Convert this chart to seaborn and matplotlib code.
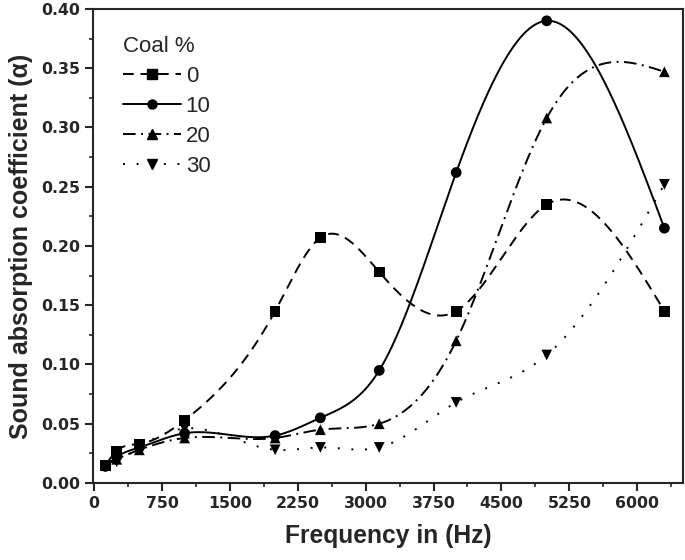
import numpy as np
import pandas as pd
import seaborn as sns
import matplotlib
matplotlib.use("Agg")
import matplotlib.pyplot as plt
from matplotlib.lines import Line2D
from matplotlib.ticker import MultipleLocator, FormatStrFormatter

sns.set_style("ticks")
plt.rcParams['font.family'] = ['Liberation Sans', 'DejaVu Sans']

freq = [125, 250, 500, 1000, 2000, 2500, 3150, 4000, 5000, 6300]
coal_labels = ['0', '10', '20', '30']
alpha_0 = [0.015, 0.027, 0.033, 0.053, 0.145, 0.207, 0.178, 0.145, 0.235, 0.145]
alpha_10 = [0.014, 0.022, 0.030, 0.042, 0.040, 0.055, 0.095, 0.262, 0.390, 0.215]
alpha_20 = [0.015, 0.020, 0.028, 0.038, 0.038, 0.045, 0.050, 0.120, 0.308, 0.347]
alpha_30 = [0.014, 0.018, 0.030, 0.046, 0.028, 0.030, 0.030, 0.068, 0.108, 0.252]


def natural_spline(x, y, n=400):
    # plain natural cubic spline, just for drawing the smooth connector
    x = np.asarray(x, float)
    y = np.asarray(y, float)
    k = len(x)
    h = np.diff(x)
    A = np.zeros((k, k))
    b = np.zeros(k)
    A[0, 0] = A[-1, -1] = 1
    for i in range(1, k - 1):
        A[i, i - 1] = h[i - 1]
        A[i, i] = 2 * (h[i - 1] + h[i])
        A[i, i + 1] = h[i]
        b[i] = 3 * ((y[i + 1] - y[i]) / h[i] - (y[i] - y[i - 1]) / h[i - 1])
    c = np.linalg.solve(A, b)
    xs = np.linspace(x[0], x[-1], n)
    idx = np.clip(np.searchsorted(x, xs) - 1, 0, k - 2)
    dx = xs - x[idx]
    bb = (y[idx + 1] - y[idx]) / h[idx] - h[idx] * (2 * c[idx] + c[idx + 1]) / 3
    d = (c[idx + 1] - c[idx]) / (3 * h[idx])
    ys = y[idx] + bb * dx + c[idx] * dx ** 2 + d * dx ** 3
    return xs, ys


series = [alpha_0, alpha_10, alpha_20, alpha_30]
pts = pd.DataFrame({
    'freq': freq * 4,
    'alpha': np.concatenate(series),
    'coal': np.repeat(coal_labels, len(freq)),
})
curves = []
for lab, vals in zip(coal_labels, series):
    xs, ys = natural_spline(freq, vals)
    curves.append(pd.DataFrame({'freq': xs, 'alpha': ys, 'coal': lab}))
curves = pd.concat(curves)

dashes = {'0': (5.5, 3.5), '10': '', '20': (6.5, 2.8, 1, 2.8), '30': (1, 6)}
markers = {'0': 's', '10': 'o', '20': '^', '30': 'v'}
pal = {k: 'black' for k in coal_labels}

fig = plt.figure(figsize=(6.85, 5.6), dpi=100)
ax = fig.add_axes([0.136, 0.1375, 0.861, 0.8465])

sns.lineplot(data=curves, x='freq', y='alpha', hue='coal', style='coal',
             dashes=dashes, palette=pal, linewidth=1.4, legend=False, ax=ax,
             sort=False, estimator=None)
sns.scatterplot(data=pts, x='freq', y='alpha', hue='coal', style='coal',
                markers=markers, palette=pal, s=60, edgecolor='black',
                linewidth=0, legend=False, ax=ax, zorder=5)

ax.set_xlim(-10, 6505)
ax.set_ylim(0, 0.40)
ax.xaxis.set_major_locator(MultipleLocator(750))
ax.xaxis.set_minor_locator(MultipleLocator(375))
ax.yaxis.set_major_locator(MultipleLocator(0.05))
ax.yaxis.set_minor_locator(MultipleLocator(0.025))
ax.yaxis.set_major_formatter(FormatStrFormatter('%.2f'))
ax.tick_params(which='major', length=5.5, width=1.5, pad=4)
ax.tick_params(which='minor', length=3, width=1.2)
for lab in ax.get_xticklabels() + ax.get_yticklabels():
    lab.set_fontfamily('DejaVu Sans')
    lab.set_fontweight('bold')
    lab.set_fontsize(11.3)
for sp in ax.spines.values():
    sp.set_linewidth(1.5)

ax.set_xlabel('Frequency in (Hz)', fontsize=17.7, fontweight='bold', labelpad=9)
ax.set_ylabel('Sound absorption coefficient (α)', fontsize=18, fontweight='bold', labelpad=6)

handles = []
for lab in coal_labels:
    d = dashes[lab]
    h = Line2D([], [], color='black', marker=markers[lab], markersize=6.5,
               linewidth=1.4, linestyle=(0, d) if d else '-')
    handles.append(h)
leg = ax.legend(handles, coal_labels, title='Coal %', loc='upper left',
                bbox_to_anchor=(0.025, 0.975), frameon=False, fontsize=16,
                title_fontsize=16, handlelength=2.6, labelspacing=0.4,
                handletextpad=0.2, alignment='left', borderpad=0.2)

fig.savefig('out.png', dpi=100)
